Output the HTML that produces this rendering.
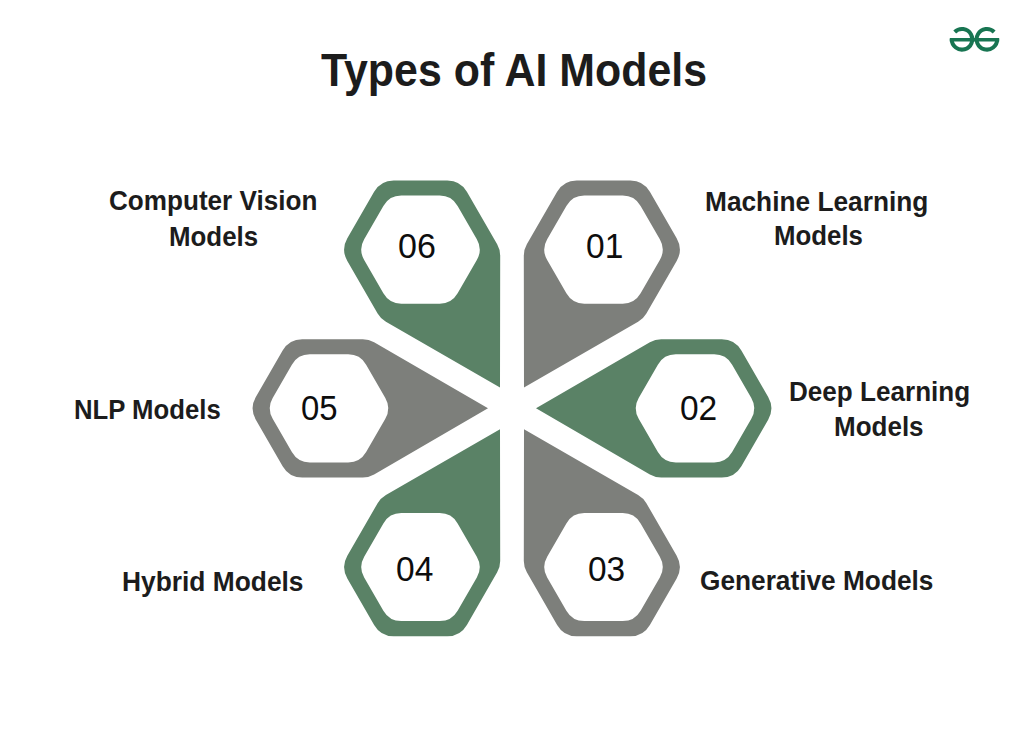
<!DOCTYPE html>
<html><head><meta charset="utf-8">
<style>
html,body{margin:0;padding:0;background:#fff;}
body{width:1024px;height:732px;position:relative;overflow:hidden;font-family:"Liberation Sans",sans-serif;color:#1a1a1a;}
.t{position:absolute;white-space:nowrap;line-height:1;transform-origin:0 0;}
svg{position:absolute;left:0;top:0;}
</style></head><body>
<svg width="1024" height="732" viewBox="0 0 1024 732">
<g transform="translate(512.0,408.35) scale(1,1.0015) rotate(0)"><path d="M24.00,0.00 L137.89,-65.98 A22.60,22.60 0 0 1 149.22,-69.02 L209.80,-69.02 A22.60,22.60 0 0 1 229.37,-57.72 L256.18,-11.30 A22.60,22.60 0 0 1 256.18,11.30 L229.37,57.72 A22.60,22.60 0 0 1 209.80,69.02 L149.22,69.02 A22.60,22.60 0 0 1 137.89,65.98 Z" fill="#5a8266"/><path d="M239.32,-10.35 A20.70,20.70 0 0 1 239.32,10.35 L220.13,43.60 A20.70,20.70 0 0 1 202.20,53.95 L163.80,53.95 A20.70,20.70 0 0 1 145.87,43.60 L126.68,10.35 A20.70,20.70 0 0 1 126.68,-10.35 L145.87,-43.60 A20.70,20.70 0 0 1 163.80,-53.95 L202.20,-53.95 A20.70,20.70 0 0 1 220.13,-43.60 Z" fill="#fff"/></g>
<g transform="translate(512.0,408.35) scale(1,1.0015) rotate(60)"><path d="M24.00,0.00 L137.89,-65.98 A22.60,22.60 0 0 1 149.22,-69.02 L209.80,-69.02 A22.60,22.60 0 0 1 229.37,-57.72 L256.18,-11.30 A22.60,22.60 0 0 1 256.18,11.30 L229.37,57.72 A22.60,22.60 0 0 1 209.80,69.02 L149.22,69.02 A22.60,22.60 0 0 1 137.89,65.98 Z" fill="#7d7f7b"/><path d="M239.32,-10.35 A20.70,20.70 0 0 1 239.32,10.35 L220.13,43.60 A20.70,20.70 0 0 1 202.20,53.95 L163.80,53.95 A20.70,20.70 0 0 1 145.87,43.60 L126.68,10.35 A20.70,20.70 0 0 1 126.68,-10.35 L145.87,-43.60 A20.70,20.70 0 0 1 163.80,-53.95 L202.20,-53.95 A20.70,20.70 0 0 1 220.13,-43.60 Z" fill="#fff"/></g>
<g transform="translate(512.0,408.35) scale(1,1.0015) rotate(120)"><path d="M24.00,0.00 L137.89,-65.98 A22.60,22.60 0 0 1 149.22,-69.02 L209.80,-69.02 A22.60,22.60 0 0 1 229.37,-57.72 L256.18,-11.30 A22.60,22.60 0 0 1 256.18,11.30 L229.37,57.72 A22.60,22.60 0 0 1 209.80,69.02 L149.22,69.02 A22.60,22.60 0 0 1 137.89,65.98 Z" fill="#5a8266"/><path d="M239.32,-10.35 A20.70,20.70 0 0 1 239.32,10.35 L220.13,43.60 A20.70,20.70 0 0 1 202.20,53.95 L163.80,53.95 A20.70,20.70 0 0 1 145.87,43.60 L126.68,10.35 A20.70,20.70 0 0 1 126.68,-10.35 L145.87,-43.60 A20.70,20.70 0 0 1 163.80,-53.95 L202.20,-53.95 A20.70,20.70 0 0 1 220.13,-43.60 Z" fill="#fff"/></g>
<g transform="translate(512.0,408.35) scale(1,1.0015) rotate(180)"><path d="M24.00,0.00 L137.89,-65.98 A22.60,22.60 0 0 1 149.22,-69.02 L209.80,-69.02 A22.60,22.60 0 0 1 229.37,-57.72 L256.18,-11.30 A22.60,22.60 0 0 1 256.18,11.30 L229.37,57.72 A22.60,22.60 0 0 1 209.80,69.02 L149.22,69.02 A22.60,22.60 0 0 1 137.89,65.98 Z" fill="#7d7f7b"/><path d="M239.32,-10.35 A20.70,20.70 0 0 1 239.32,10.35 L220.13,43.60 A20.70,20.70 0 0 1 202.20,53.95 L163.80,53.95 A20.70,20.70 0 0 1 145.87,43.60 L126.68,10.35 A20.70,20.70 0 0 1 126.68,-10.35 L145.87,-43.60 A20.70,20.70 0 0 1 163.80,-53.95 L202.20,-53.95 A20.70,20.70 0 0 1 220.13,-43.60 Z" fill="#fff"/></g>
<g transform="translate(512.0,408.35) scale(1,1.0015) rotate(240)"><path d="M24.00,0.00 L137.89,-65.98 A22.60,22.60 0 0 1 149.22,-69.02 L209.80,-69.02 A22.60,22.60 0 0 1 229.37,-57.72 L256.18,-11.30 A22.60,22.60 0 0 1 256.18,11.30 L229.37,57.72 A22.60,22.60 0 0 1 209.80,69.02 L149.22,69.02 A22.60,22.60 0 0 1 137.89,65.98 Z" fill="#5a8266"/><path d="M239.32,-10.35 A20.70,20.70 0 0 1 239.32,10.35 L220.13,43.60 A20.70,20.70 0 0 1 202.20,53.95 L163.80,53.95 A20.70,20.70 0 0 1 145.87,43.60 L126.68,10.35 A20.70,20.70 0 0 1 126.68,-10.35 L145.87,-43.60 A20.70,20.70 0 0 1 163.80,-53.95 L202.20,-53.95 A20.70,20.70 0 0 1 220.13,-43.60 Z" fill="#fff"/></g>
<g transform="translate(512.0,408.35) scale(1,1.0015) rotate(300)"><path d="M24.00,0.00 L137.89,-65.98 A22.60,22.60 0 0 1 149.22,-69.02 L209.80,-69.02 A22.60,22.60 0 0 1 229.37,-57.72 L256.18,-11.30 A22.60,22.60 0 0 1 256.18,11.30 L229.37,57.72 A22.60,22.60 0 0 1 209.80,69.02 L149.22,69.02 A22.60,22.60 0 0 1 137.89,65.98 Z" fill="#7d7f7b"/><path d="M239.32,-10.35 A20.70,20.70 0 0 1 239.32,10.35 L220.13,43.60 A20.70,20.70 0 0 1 202.20,53.95 L163.80,53.95 A20.70,20.70 0 0 1 145.87,43.60 L126.68,10.35 A20.70,20.70 0 0 1 126.68,-10.35 L145.87,-43.60 A20.70,20.70 0 0 1 163.80,-53.95 L202.20,-53.95 A20.70,20.70 0 0 1 220.13,-43.60 Z" fill="#fff"/></g>
<g fill="none" stroke="#187552" stroke-width="4">
<path d="M951.7,39.3 A10.3,10.3 0 1 0 954.72,32.0"/>
<path d="M997.2,39.3 A10.3,10.3 0 1 1 994.18,32.0"/>
<path d="M949.8,39.8 H999.2" stroke-width="3.4"/>
</g>
</svg>
<div class="t" style="left:320.52px;top:46.60px;font-size:43px;font-weight:bold;color:#1c1c1c;transform:scale(0.9975,1.0800)">Types of AI Models</div>
<div class="t" style="left:108.81px;top:186.60px;font-size:26px;font-weight:bold;color:#1c1c1c;transform:scale(1.0040,1.0400)">Computer Vision</div>
<div class="t" style="left:169.29px;top:223.20px;font-size:26px;font-weight:bold;color:#1c1c1c;transform:scale(0.9949,1.0400)">Models</div>
<div class="t" style="left:705.45px;top:187.80px;font-size:26px;font-weight:bold;color:#1c1c1c;transform:scale(1.0103,1.0400)">Machine Learning</div>
<div class="t" style="left:773.54px;top:222.40px;font-size:26px;font-weight:bold;color:#1c1c1c;transform:scale(0.9932,1.0400)">Models</div>
<div class="t" style="left:789.14px;top:378.00px;font-size:26px;font-weight:bold;color:#1c1c1c;transform:scale(1.0033,1.0400)">Deep Learning</div>
<div class="t" style="left:834.15px;top:412.60px;font-size:26px;font-weight:bold;color:#1c1c1c;transform:scale(0.9999,1.0400)">Models</div>
<div class="t" style="left:73.56px;top:395.60px;font-size:26px;font-weight:bold;color:#1c1c1c;transform:scale(0.9890,1.0400)">NLP Models</div>
<div class="t" style="left:122.00px;top:568.00px;font-size:26px;font-weight:bold;color:#1c1c1c;transform:scale(1.0133,1.0400)">Hybrid Models</div>
<div class="t" style="left:700.21px;top:566.80px;font-size:26px;font-weight:bold;color:#1c1c1c;transform:scale(1.0096,1.0400)">Generative Models</div>
<div class="t" style="left:397.58px;top:228.20px;font-size:34px;font-weight:normal;color:#0d0d0d;transform:scale(1.0008,1.0400)">06</div>
<div class="t" style="left:586.30px;top:228.20px;font-size:34px;font-weight:normal;color:#0d0d0d;transform:scale(0.9854,1.0400)">01</div>
<div class="t" style="left:680.10px;top:389.60px;font-size:34px;font-weight:normal;color:#0d0d0d;transform:scale(0.9849,1.0400)">02</div>
<div class="t" style="left:588.22px;top:551.00px;font-size:34px;font-weight:normal;color:#0d0d0d;transform:scale(0.9836,1.0400)">03</div>
<div class="t" style="left:396.12px;top:551.00px;font-size:34px;font-weight:normal;color:#0d0d0d;transform:scale(0.9853,1.0400)">04</div>
<div class="t" style="left:300.62px;top:389.60px;font-size:34px;font-weight:normal;color:#0d0d0d;transform:scale(0.9677,1.0400)">05</div>
</body></html>
